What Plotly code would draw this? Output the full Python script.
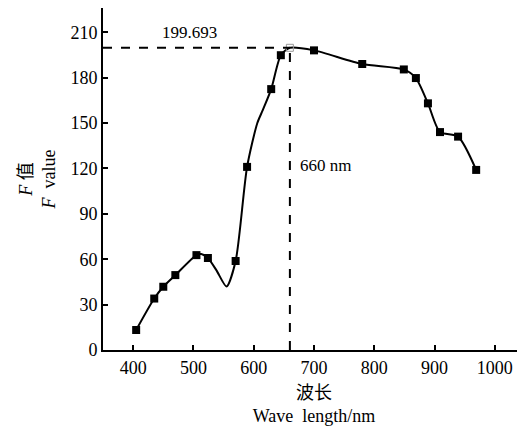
import plotly.graph_objects as go

# Measured points (markers)
wavelength = [405, 435, 450, 470, 505, 524, 570, 589, 629, 645, 700, 780, 849, 869, 889, 909, 939, 969]
f_value = [13.2, 34, 41.8, 49.5, 62.7, 60.8, 58.8, 121, 172.4, 194.8, 198, 189, 185.4, 179.7, 163, 144, 141, 119]

# Fitted curve (markers plus read-off curve points)
curve_x = [405, 435, 450, 470, 505, 513, 524, 538, 555, 570, 589, 606, 615, 629, 645, 660, 700, 780, 849, 869, 889, 909, 939, 969]
curve_y = [13.2, 34, 41.8, 49.5, 62.7, 63.4, 60.8, 52.8, 42.0, 58.8, 121, 150, 158.5, 172.4, 194.8, 199.693, 198, 189, 185.4, 179.7, 163, 144, 141, 119]

peak_x = [660]
peak_y = [199.693]

x_ticks = [400, 500, 600, 700, 800, 900, 1000]
y_ticks = [0, 30, 60, 90, 120, 150, 180, 210]

SERIF = "Liberation Serif"
CJK = "Noto Sans CJK SC"

fig = go.Figure()
fig.add_trace(go.Scatter(x=curve_x, y=curve_y, mode="lines",
                         line=dict(color="black", width=2, shape="spline", smoothing=0.7),
                         hoverinfo="skip", showlegend=False))
fig.add_trace(go.Scatter(x=wavelength, y=f_value, mode="markers",
                         marker=dict(symbol="square", size=8, color="black"),
                         showlegend=False))
fig.add_trace(go.Scatter(x=peak_x, y=peak_y, mode="markers",
                         marker=dict(symbol="square-open", size=7, color="#999999", line=dict(width=1)),
                         showlegend=False))

# Dashed guide lines
fig.add_shape(type="line", x0=350, x1=peak_x[0], y0=peak_y[0], y1=peak_y[0],
              line=dict(color="black", width=2, dash="dash"))
fig.add_shape(type="line", x0=peak_x[0], x1=peak_x[0], y0=0, y1=peak_y[0],
              line=dict(color="black", width=2, dash="dash"))

fig.add_annotation(x=494, y=209.5, text="199.693", showarrow=False,
                   font=dict(family=SERIF, size=17, color="black"))
fig.add_annotation(x=673, y=122, text="660 nm", showarrow=False, xanchor="left",
                   font=dict(family=SERIF, size=17, color="black"))

# The page body has an 8px margin, so the figure is sized to sit in the window
fig.update_layout(
    width=517, height=422,
    margin=dict(l=95, r=0, t=0, b=80),
    paper_bgcolor="white", plot_bgcolor="white",
    font=dict(family=SERIF, size=18, color="black"),
    xaxis=dict(range=[350, 1050], tickvals=x_ticks, showgrid=False, zeroline=False,
               showline=True, linecolor="black", linewidth=2, automargin=False,
               ticks="inside", ticklen=5, tickwidth=2, tickcolor="black",
               tickfont=dict(family=SERIF, size=18),
               title=dict(text=f"<span style='font-family:{CJK}'>波长</span><br>Wave  length/nm",
                          font=dict(family=SERIF, size=18), standoff=4)),
    yaxis=dict(range=[0, 226], tickvals=y_ticks, showgrid=False, zeroline=False,
               showline=True, linecolor="black", linewidth=2, automargin=False,
               ticks="inside", ticklen=5, tickwidth=2, tickcolor="black",
               tickfont=dict(family=SERIF, size=18),
               title=dict(text=f"<i>F</i> <span style='font-family:{CJK}'>值</span><br><i>F</i>  value",
                          font=dict(family=SERIF, size=18), standoff=10)),
)

fig.write_html("out.html")
